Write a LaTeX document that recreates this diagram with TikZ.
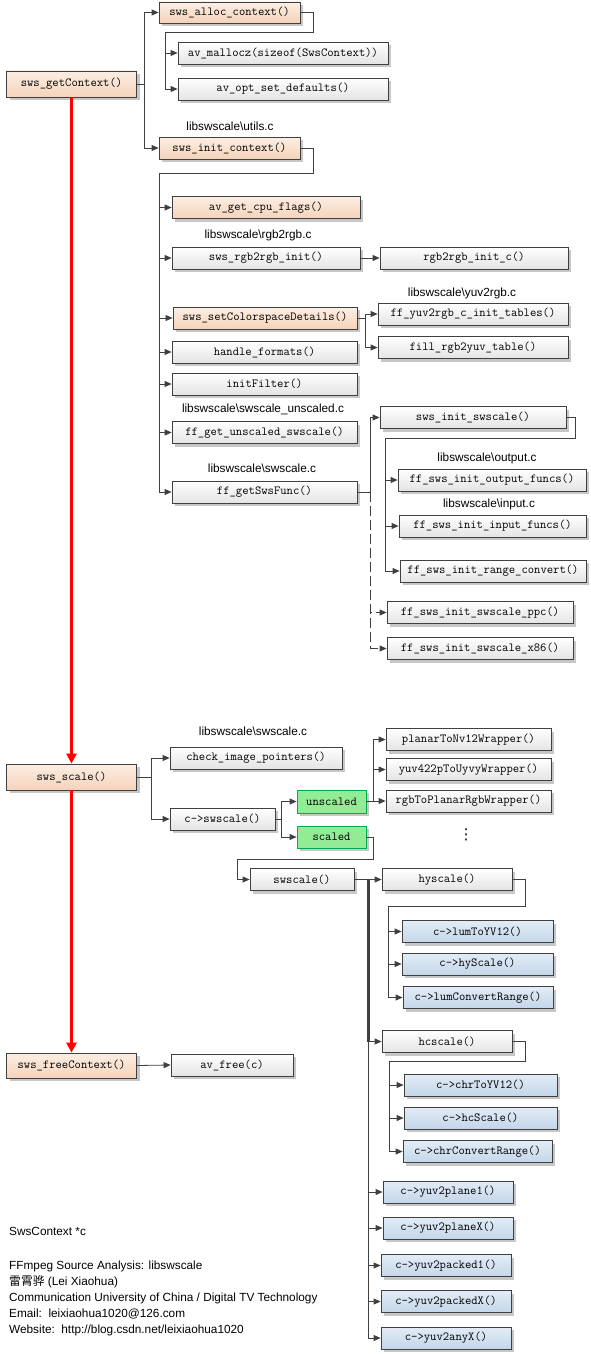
\documentclass[tikz,border=0pt]{standalone}
\usepackage{fontspec}
\setsansfont{Liberation Sans}
\newfontfamily\cjk{Noto Sans CJK SC}
\newfontfamily\symfont{DejaVu Sans}
\usepackage{amsmath}
\usetikzlibrary{arrows.meta,shadows}

\definecolor{framegray}{RGB}{64,64,64}
\definecolor{boxgray}{RGB}{228,228,228}
\definecolor{peachtop}{RGB}{252,238,228}
\definecolor{peachbot}{RGB}{245,211,186}
\definecolor{bluetop}{RGB}{226,236,246}
\definecolor{bluebot}{RGB}{196,214,234}
\definecolor{greenfill}{RGB}{146,236,150}
\definecolor{greenline}{RGB}{0,170,80}

\begin{document}
\begin{tikzpicture}[x=1pt,y=-1pt]

		\tikzstyle{every node}=[font=\fontsize{12.3}{14}\selectfont\ttfamily]
		\tikzstyle{fn}=[draw=framegray, line width=0.8pt, top color=white, bottom color=boxgray, minimum height=22pt, inner sep=1pt, drop shadow={shadow xshift=3pt, shadow yshift=-3pt, fill=black, opacity=0.22}]
		\tikzstyle{fnpeach}=[fn, top color=peachtop, bottom color=peachbot]
		\tikzstyle{fnblue}=[fn, top color=bluetop, bottom color=bluebot]
		\tikzstyle{fngreen}=[fn, draw=greenline, top color=greenfill, bottom color=greenfill]
		\tikzstyle{src}=[font=\fontsize{11.8}{16}\selectfont\sffamily, inner sep=0pt]
		\tikzstyle{wire}=[draw=framegray, line width=0.8pt]
		\tikzstyle{conn}=[wire, -{Triangle[length=7pt,width=6pt]}]
		\tikzstyle{callflow}=[red, line width=3pt, -{Triangle[length=10pt,width=10pt]}]

		\useasboundingbox (0,0) rectangle (590,1354);

		%\draw[style=help lines, step=50, color=gray] (0,0) grid (590,1354);

		\node[fnpeach, minimum width=130pt, minimum height=26pt] (getctx) at (71.5,84) {sws\_getContext()};
		\node[fnpeach, minimum width=141pt, minimum height=21pt] (alloc) at (229.5,12.5) {sws\_alloc\_context()};
		\node[fn, minimum width=210pt] (malloc) at (283,53) {av\_mallocz(sizeof(SwsContext))};
		\node[fn, minimum width=210pt] (optdef) at (283,89) {av\_opt\_set\_defaults()};
		\node[src] (utilsc) at (230,126) {libswscale\textbackslash utils.c};
		\node[fnpeach, minimum width=141pt] (initctx) at (229.5,148) {sws\_init\_context()};
		\node[fnpeach, minimum width=188pt] (cpuflags) at (266,207.5) {av\_get\_cpu\_flags()};
		\node[src] (rgbc) at (258,235) {libswscale\textbackslash rgb2rgb.c};
		\node[fn, minimum width=188pt] (rgbinit) at (266,258) {sws\_rgb2rgb\_init()};
		\node[fn, minimum width=188pt] (rgbinitc) at (474,258) {rgb2rgb\_init\_c()};
		\node[src] (yuvc) at (462,293) {libswscale\textbackslash yuv2rgb.c};
		\node[fnpeach, minimum width=184pt] (setcs) at (265,318) {sws\_setColorspaceDetails()};
		\node[fn, minimum width=190pt] (yuvtables) at (473,314) {ff\_yuv2rgb\_c\_init\_tables()};
		\node[fn, minimum width=190pt] (filltable) at (473,347.5) {fill\_rgb2yuv\_table()};
		\node[fn, minimum width=185pt] (handlefmt) at (264.5,352) {handle\_formats()};
		\node[fn, minimum width=185pt] (initfilter) at (264.5,384) {initFilter()};
		\node[src] (unscaledc) at (263,409) {libswscale\textbackslash swscale\_unscaled.c};
		\node[fn, minimum width=185pt] (getunscaled) at (264.5,432.5) {ff\_get\_unscaled\_swscale()};
		\node[src] (swscalec) at (262,468) {libswscale\textbackslash swscale.c};
		\node[fn, minimum width=185pt] (getswsfunc) at (264.5,492) {ff\_getSwsFunc()};
		\node[fn, minimum width=186pt] (initswscale) at (473,417.5) {sws\_init\_swscale()};
		\node[src] (outputc) at (487,458) {libswscale\textbackslash output.c};
		\node[fn, minimum width=188pt] (outfuncs) at (492,480) {ff\_sws\_init\_output\_funcs()};
		\node[src] (inputc) at (489,504) {libswscale\textbackslash input.c};
		\node[fn, minimum width=187pt] (infuncs) at (492.5,526) {ff\_sws\_init\_input\_funcs()};
		\node[fn, minimum width=186pt] (rangeconv) at (493,571) {ff\_sws\_init\_range\_convert()};
		\node[fn, minimum width=186pt] (initppc) at (480,612.5) {ff\_sws\_init\_swscale\_ppc()};
		\node[fn, minimum width=186pt] (initx86) at (480,648.5) {ff\_sws\_init\_swscale\_x86()};

		\node[fnpeach, minimum width=130pt, minimum height=26pt] (scale) at (71.5,777) {sws\_scale()};
		\node[src] (swscalec2) at (253,731) {libswscale\textbackslash swscale.c};
		\node[fn, minimum width=172pt] (checkptr) at (256,758) {check\_image\_pointers()};
		\node[fn, minimum width=105pt] (cswscale) at (222.5,819) {c->swscale()};
		\node[fngreen, minimum width=69pt, minimum height=23pt] (unscaled) at (331.5,801.5) {unscaled};
		\node[fngreen, minimum width=69pt] (scaled) at (331.5,837) {scaled};
		\node[fn, minimum width=165pt] (nv12) at (468.5,739.5) {planarToNv12Wrapper()};
		\node[fn, minimum width=165pt] (uyvy) at (468.5,769.5) {yuv422pToUyvyWrapper()};
		\node[fn, minimum width=165pt] (planarrgb) at (468.5,801) {rgbToPlanarRgbWrapper()};
		\node[font=\fontsize{15}{15}\selectfont\symfont, inner sep=0pt] (moredots) at (466,835) {⋮};
		\node[fn, minimum width=104pt] (swscalefn) at (302,879.5) {swscale()};
		\node[fn, minimum width=130pt] (hyscale) at (447,879.5) {hyscale()};
		\node[fnblue, minimum width=151pt] (lumtoyv) at (477.5,931.5) {c->lumToYV12()};
		\node[fnblue, minimum width=151pt] (hyscalefn) at (477.5,964) {c->hyScale()};
		\node[fnblue, minimum width=150pt] (lumconv) at (478,997.5) {c->lumConvertRange()};
		\node[fn, minimum width=130pt] (hcscale) at (447,1041.5) {hcscale()};
		\node[fnblue, minimum width=153pt] (chrtoyv) at (480.5,1085) {c->chrToYV12()};
		\node[fnblue, minimum width=153pt] (hcscalefn) at (480.5,1118) {c->hcScale()};
		\node[fnblue, minimum width=149pt] (chrconv) at (477.5,1151.5) {c->chrConvertRange()};
		\node[fnblue, minimum width=130pt] (plane1) at (448,1192) {c->yuv2plane1()};
		\node[fnblue, minimum width=130pt] (planex) at (448,1228) {c->yuv2planeX()};
		\node[fnblue, minimum width=130pt] (packed1) at (446,1265.5) {c->yuv2packed1()};
		\node[fnblue, minimum width=130pt] (packedx) at (446,1301.5) {c->yuv2packedX()};
		\node[fnblue, minimum width=130pt] (anyx) at (446,1338) {c->yuv2anyX()};

		\node[fnpeach, minimum width=130pt, minimum height=25pt] (freectx) at (71.5,1065.5) {sws\_freeContext()};
		\node[fn, minimum width=122pt] (avfree) at (232,1065) {av\_free(c)};

		\node[src, anchor=west] (ctxvar) at (9,1231) {SwsContext *c};
		\node[src, anchor=north west, align=left] (credits) at (9,1261) {FFmpeg Source Analysis: libswscale\\
			{\cjk 雷霄骅} (Lei Xiaohua)\\
			Communication University of China / Digital TV Technology\\
			Email:\ \ leixiaohua1020@126.com\\
			Website:\ \ http://blog.csdn.net/leixiaohua1020};

		\draw[callflow] (getctx.south) -- (scale.north);
		\draw[callflow] (scale.south) -- (freectx.north);

		\draw[conn] (getctx.east) -- ++(7,0) |- (alloc.west);
		\draw[conn] (getctx.east) -- ++(7,0) |- (initctx.west);

		\coordinate (allocturn) at (165,32);
		\draw[wire] (alloc.east) -- ++(13,0) |- (allocturn);
		\draw[conn] (allocturn) |- (malloc.west);
		\draw[conn] (allocturn) |- (optdef.west);

		\coordinate (initturn) at (159,173);
		\draw[wire] (initctx.east) -- ++(13,0) |- (initturn);
		\draw[conn] (initturn) |- (cpuflags.west);
		\draw[conn] (initturn) |- (rgbinit.west);
		\draw[conn] (initturn) |- (setcs.west);
		\draw[conn] (initturn) |- (handlefmt.west);
		\draw[conn] (initturn) |- (initfilter.west);
		\draw[conn] (initturn) |- (getunscaled.west);
		\draw[conn] (initturn) |- (getswsfunc.west);

		\draw[conn] (rgbinit.east) -- (rgbinitc.west);
		\draw[conn] (setcs.east) -- ++(8,0) |- (yuvtables.west);
		\draw[conn] (setcs.east) -- ++(8,0) |- (filltable.west);

		\draw[conn] (getswsfunc.east) -- ++(13,0) coordinate (funcfork) |- (initswscale.west);
		\draw[conn, dash pattern=on 10pt off 4pt] (funcfork) |- (initppc.west);
		\draw[conn, dash pattern=on 10pt off 4pt] (funcfork) |- (initx86.west);

		\coordinate (swsturn) at (385,438);
		\draw[wire] (initswscale.east) -- ++(9,0) |- (swsturn);
		\draw[conn] (swsturn) |- (outfuncs.west);
		\draw[conn] (swsturn) |- (infuncs.west);
		\draw[conn] (swsturn) |- (rangeconv.west);

		\draw[conn] (scale.east) -- ++(14,0) coordinate (scalefork) |- (checkptr.west);
		\draw[conn] (scalefork) |- (cswscale.west);
		\draw[conn] (cswscale.east) -- ++(6,0) coordinate (cswfork) |- (unscaled.west);
		\draw[conn] (cswfork) |- (scaled.west);
		\draw[conn] (unscaled.east) -- ++(7,0) coordinate (unsfork) |- (nv12.west);
		\draw[conn] (unsfork) |- (uyvy.west);
		\draw[conn] (unsfork) |- (planarrgb.west);

		\coordinate (scaledturn) at (237,859);
		\draw[conn] (scaled.east) -- ++(7,0) |- (scaledturn) |- (swscalefn.west);

		\draw[wire] (swscalefn.east) -- ++(14,0) coordinate (swsfork);
		\draw[wire, line width=2.2pt] (swsfork) -- (swsfork |- hcscale.west);
		\draw[conn] (swsfork) |- (hyscale.west);
		\draw[conn] (swsfork) |- (hcscale.west);
		\draw[conn] (swsfork) |- (plane1.west);
		\draw[conn] (swsfork) |- (planex.west);
		\draw[conn] (swsfork) |- (packed1.west);
		\draw[conn] (swsfork) |- (packedx.west);
		\draw[conn] (swsfork) |- (anyx.west);

		\coordinate (hyturn) at (388,906);
		\draw[wire] (hyscale.east) -- ++(13,0) |- (hyturn);
		\draw[conn] (hyturn) |- (lumtoyv.west);
		\draw[conn] (hyturn) |- (hyscalefn.west);
		\draw[conn] (hyturn) |- (lumconv.west);

		\coordinate (hcturn) at (389,1061);
		\draw[wire] (hcscale.east) -- ++(13,0) |- (hcturn);
		\draw[conn] (hcturn) |- (chrtoyv.west);
		\draw[conn] (hcturn) |- (hcscalefn.west);
		\draw[conn] (hcturn) |- (chrconv.west);

		\draw[conn] (freectx.east) -- (avfree.west);

\end{tikzpicture}
\end{document}
